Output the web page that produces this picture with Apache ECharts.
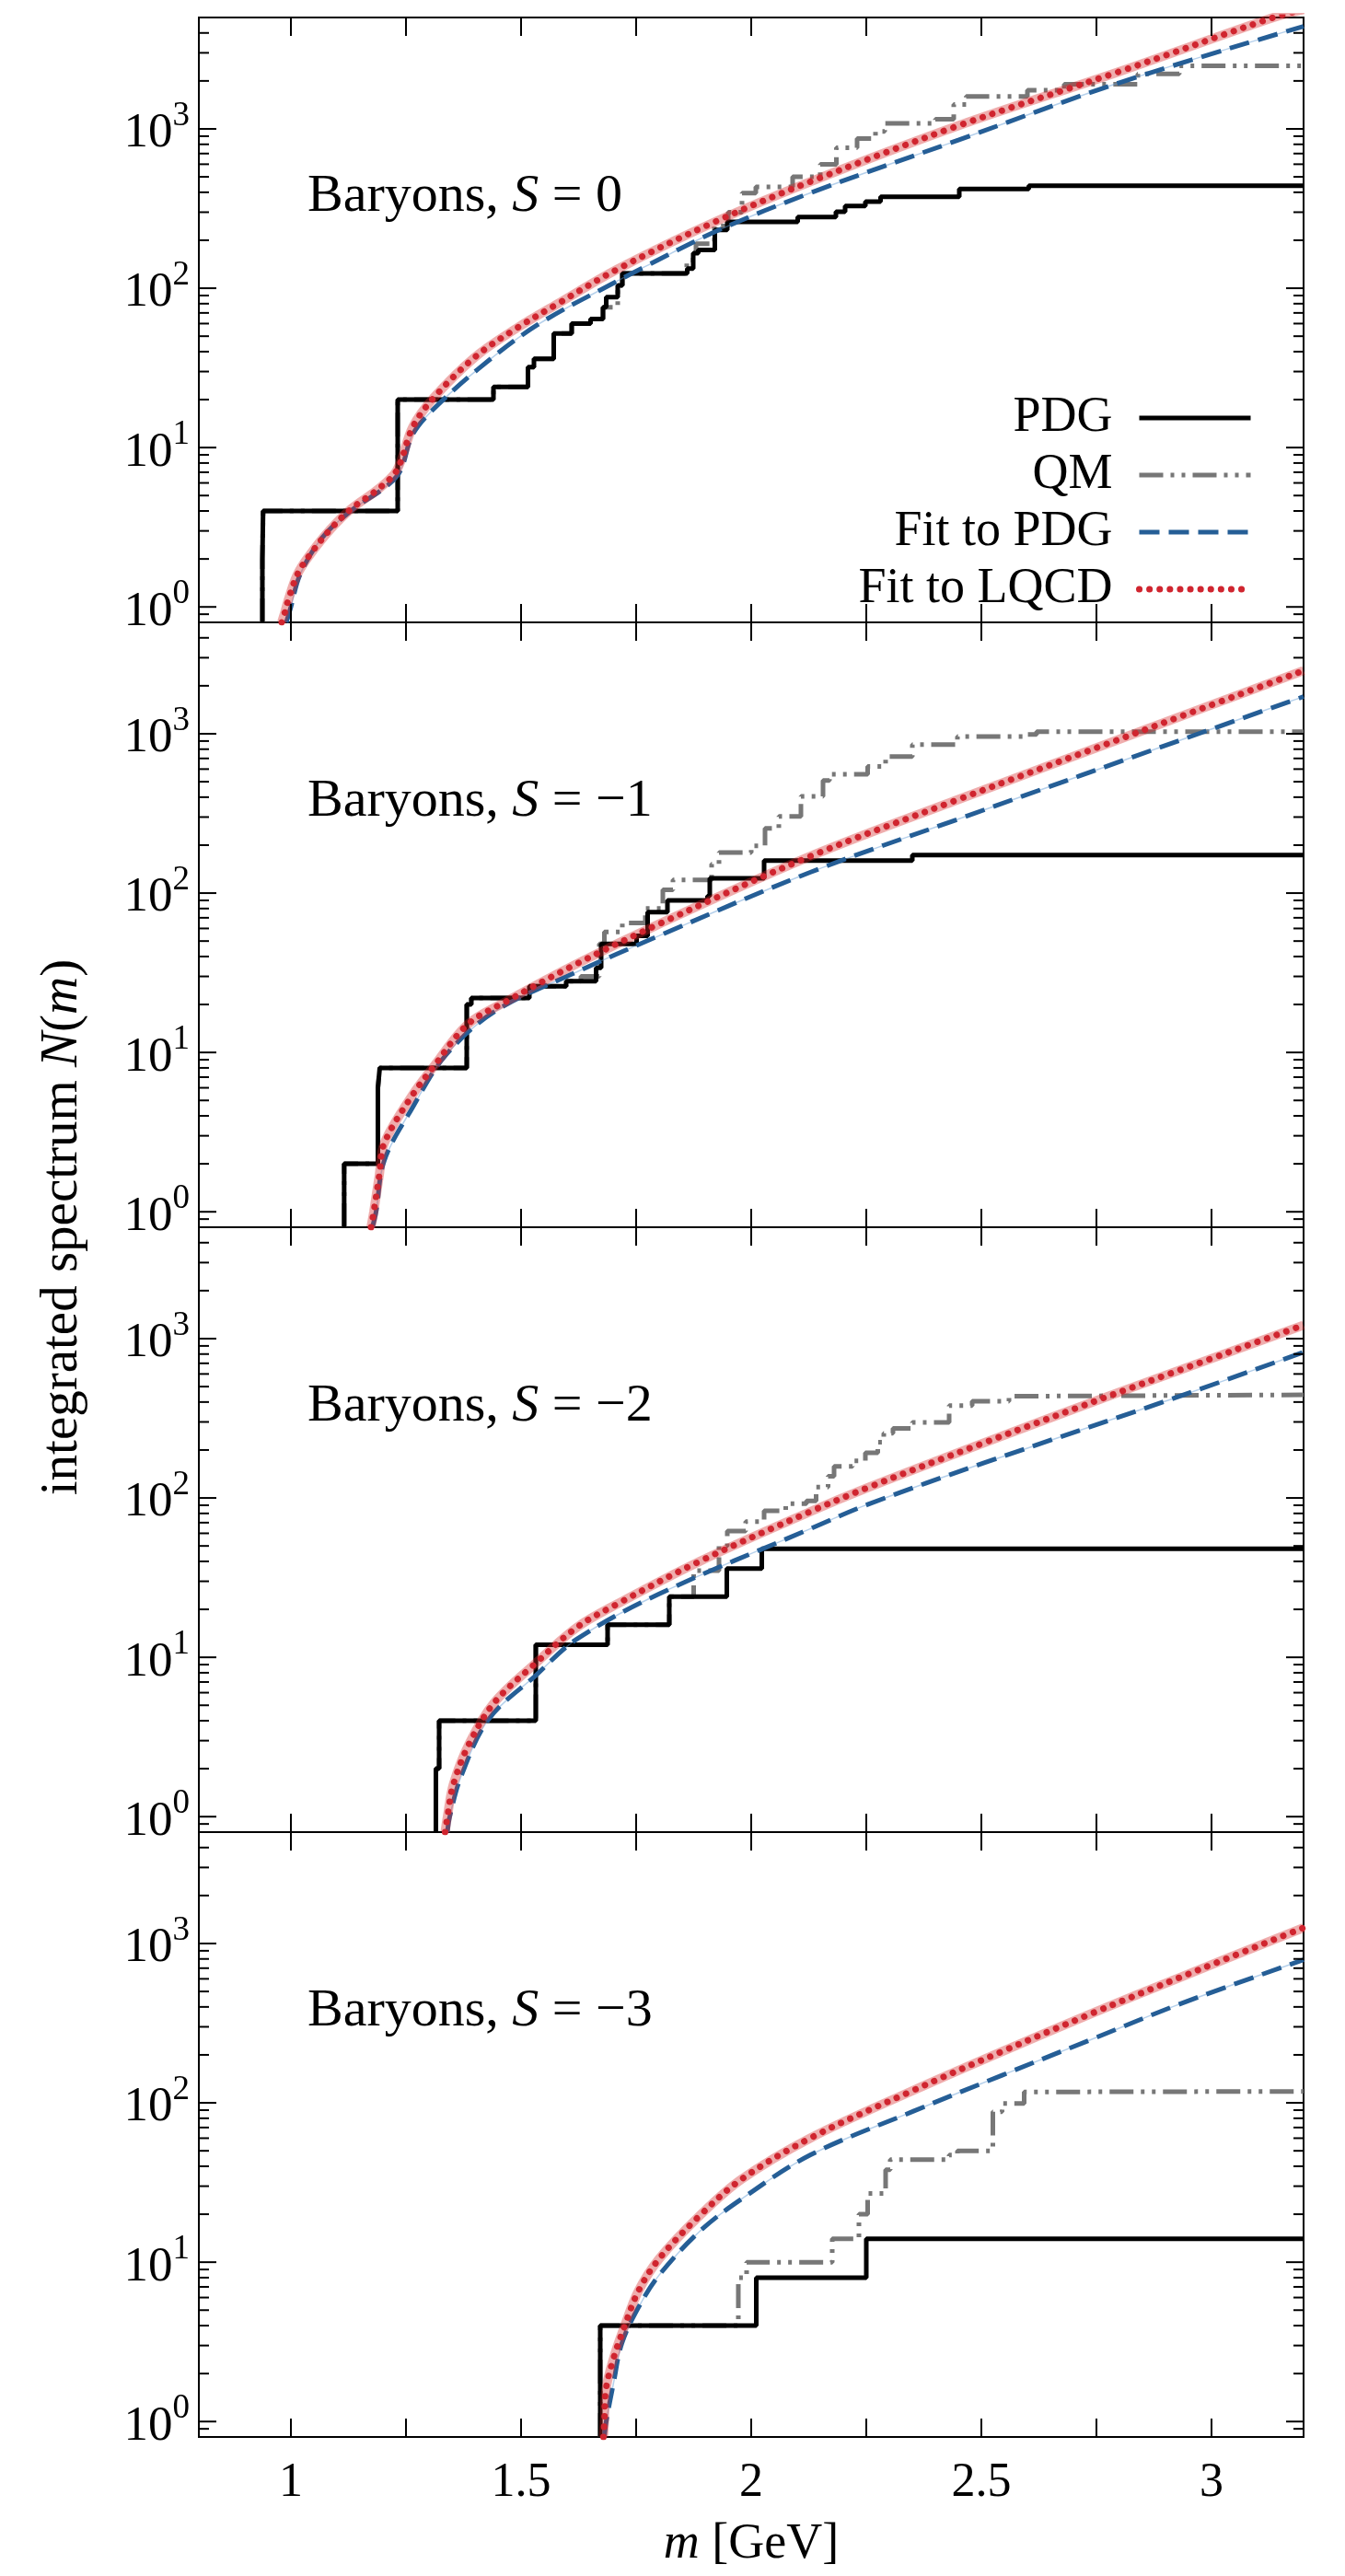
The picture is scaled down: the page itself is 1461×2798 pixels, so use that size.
<!DOCTYPE html>
<html>
<head>
<meta charset="utf-8">
<script src="https://cdn.jsdelivr.net/npm/echarts@6/dist/echarts.min.js"></script>
<style>
html, body { margin: 0; padding: 0; background: #fff; }
#chart { width: 1461px; height: 2798px; }
</style>
</head>
<body>
<div id="chart"></div>
<script>
// axis ticks
const xTicks = [1, 1.25, 1.5, 1.75, 2, 2.25, 2.5, 2.75, 3];
const xTickLabels = [1, 1.5, 2, 2.5, 3];
const yMajorTicks = [1, 10, 100, 1000];
const yMinorTicks = [0.9, 2, 3, 4, 5, 6, 7, 8, 9, 20, 30, 40, 50, 60, 70, 80, 90,
    200, 300, 400, 500, 600, 700, 800, 900, 2000, 3000, 4000];
const strangeness = ['0', '\u22121', '\u22122', '\u22123'];

// S = 0   [m (GeV), N(m)]
const pdgS0 = [[0.938, 0.8], [0.938, 2], [0.9396, 4], [1.232, 20], [1.44, 24], [1.515, 32], [1.528, 36],
    [1.571, 52], [1.61, 60], [1.651, 64], [1.678, 76], [1.685, 88], [1.71, 104], [1.72, 124], [1.861, 133],
    [1.874, 166], [1.885, 174], [1.921, 232], [1.948, 261], [2.101, 280], [2.184, 302], [2.204, 328],
    [2.248, 350], [2.281, 375], [2.452, 419], [2.603, 440], [3.2, 440]];
const qmS0 = [[0.938, 0.8], [0.938, 2], [0.9396, 4], [1.232, 20], [1.44, 24], [1.515, 32], [1.528, 36],
    [1.571, 52], [1.61, 60], [1.651, 64], [1.678, 76], [1.71, 104], [1.72, 124], [1.86, 150], [1.88, 190],
    [1.92, 246], [1.95, 300], [1.98, 395], [2.01, 433], [2.09, 500], [2.15, 600], [2.185, 760], [2.23, 870],
    [2.27, 964], [2.29, 1084], [2.40, 1150], [2.44, 1420], [2.467, 1597], [2.60, 1747], [2.68, 1905],
    [2.84, 2212], [2.93, 2490], [3.2, 2490]];
const fitPdgS0 = [[0.99, 0.8], [1.0, 1.0], [1.02, 1.6], [1.067, 2.7], [1.13, 4], [1.23, 6.6], [1.264, 12],
    [1.306, 17], [1.406, 31], [1.536, 59], [1.717, 114], [1.768, 136], [1.93, 232], [2.13, 398], [2.45, 851],
    [2.8, 1950], [3.2, 4400]];
const fitLqcdS0 = [[0.98, 0.8], [0.987, 0.93], [0.994, 1.1], [1.014, 1.6], [1.04, 2.1], [1.085, 3.05],
    [1.13, 4.1], [1.19, 5.5], [1.23, 7.2], [1.265, 13.5], [1.31, 20.5], [1.40, 37], [1.49, 56], [1.58, 80],
    [1.71, 132], [1.92, 260], [2.13, 468], [2.45, 1047], [2.8, 2290], [3.13, 4950], [3.2, 5600]];

// S = -1
const pdgS1 = [[1.1157, 0.8], [1.1157, 2], [1.189, 6], [1.193, 8], [1.382, 20], [1.392, 22], [1.518, 26],
    [1.598, 28], [1.663, 34], [1.674, 48], [1.751, 54], [1.775, 76], [1.818, 90], [1.905, 96], [1.91, 124],
    [2.028, 160], [2.35, 173], [3.2, 173]];
const qmS1 = [[1.1157, 0.8], [1.1157, 2], [1.189, 6], [1.193, 8], [1.382, 20], [1.392, 22], [1.518, 26],
    [1.598, 28], [1.63, 30], [1.67, 48], [1.681, 57], [1.72, 65], [1.77, 80], [1.808, 105], [1.83, 121],
    [1.914, 152], [1.93, 180], [2.0, 198], [2.03, 255], [2.06, 303], [2.108, 405], [2.156, 509], [2.17, 557],
    [2.253, 624], [2.292, 720], [2.35, 855], [2.448, 962], [2.593, 989], [2.62, 1030], [3.2, 1030]];
const fitPdgS1 = [[1.177, 0.8], [1.185, 1.0], [1.203, 2.1], [1.264, 4.5], [1.335, 9.5], [1.442, 18],
    [1.621, 32], [1.80, 54], [2.128, 135], [2.448, 290], [2.98, 1020], [3.2, 1710]];
const fitLqcdS1 = [[1.174, 0.8], [1.18, 1.0], [1.192, 1.7], [1.203, 2.7], [1.264, 5.4], [1.308, 8],
    [1.384, 15], [1.469, 21], [1.621, 36], [1.80, 64], [2.128, 170], [2.448, 385], [2.836, 1010], [3.2, 2490]];

// S = -2
const pdgS2 = [[1.315, 0.8], [1.315, 2], [1.322, 4], [1.532, 12], [1.688, 16], [1.822, 24], [1.947, 36],
    [2.023, 48], [3.2, 48]];
const qmS2 = [[1.315, 0.8], [1.315, 2], [1.322, 4], [1.532, 12], [1.688, 16], [1.822, 24], [1.875, 35],
    [1.93, 50], [1.948, 62], [1.988, 71], [2.028, 83], [2.075, 92], [2.12, 96], [2.141, 117], [2.167, 137],
    [2.18, 158], [2.22, 171], [2.248, 192], [2.275, 224], [2.288, 255], [2.308, 273], [2.35, 298], [2.43, 380],
    [2.48, 405], [2.56, 435], [2.59, 444], [3.2, 444]];
const fitPdgS2 = [[1.34, 0.8], [1.345, 1.0], [1.37, 1.8], [1.43, 4.1], [1.532, 7.7], [1.621, 13], [1.80, 25],
    [2.128, 64], [2.253, 91], [2.506, 166], [2.923, 427], [3.2, 822]];
const fitLqcdS2 = [[1.335, 0.8], [1.34, 1.0], [1.353, 1.6], [1.388, 2.9], [1.442, 5.2], [1.532, 9.2],
    [1.621, 15.4], [1.71, 21.7], [1.888, 40], [2.128, 82], [2.253, 116], [2.506, 222], [2.797, 458], [3.2, 1215]];

// S = -3
const pdgS3 = [[1.672, 0.8], [1.672, 4], [2.011, 8], [2.25, 14], [3.2, 14]];
const qmS3 = [[1.672, 0.8], [1.672, 4], [1.972, 8], [1.99, 10], [2.176, 14], [2.234, 20], [2.253, 27],
    [2.292, 38], [2.302, 44], [2.43, 47], [2.448, 50], [2.525, 88], [2.545, 99], [2.593, 117], [2.613, 118],
    [3.2, 118]];
const fitPdgS3 = [[1.681, 0.8], [1.685, 1.0], [1.701, 1.75], [1.719, 3.1], [1.755, 5.2], [1.80, 8.3],
    [1.889, 15.7], [1.978, 24.8], [2.128, 47], [2.35, 88], [2.545, 149], [2.739, 250], [2.933, 419], [3.2, 790]];
const fitLqcdS3 = [[1.679, 0.8], [1.681, 1.0], [1.684, 1.56], [1.701, 2.5], [1.724, 3.9], [1.755, 6.6],
    [1.80, 10.5], [1.889, 19.7], [1.978, 33], [2.128, 60], [2.35, 119], [2.545, 210], [2.739, 363], [2.933, 615],
    [3.2, 1256]];

const panels = [
    { pdg: pdgS0, qm: qmS0, fitPdg: fitPdgS0, fitLqcd: fitLqcdS0 },
    { pdg: pdgS1, qm: qmS1, fitPdg: fitPdgS1, fitLqcd: fitLqcdS1 },
    { pdg: pdgS2, qm: qmS2, fitPdg: fitPdgS2, fitLqcd: fitLqcdS2 },
    { pdg: pdgS3, qm: qmS3, fitPdg: fitPdgS3, fitLqcd: fitLqcdS3 }
];

const FONT = '"Liberation Serif", "DejaVu Serif", serif';
const gridTops = [19, 676, 1333, 1990];
const gridHeight = 657;

const styles = {
    pdg: { color: '#000000', width: 5, type: 'solid' },
    qm: { color: '#777777', width: 5, type: [26, 8, 4, 8, 4, 8] },
    fitPdg: { color: '#255e96', width: 5, type: [22, 10] },
    fitLqcd: { color: '#d0252f', width: 7, type: [0.1, 11], cap: 'round' }
};

// tick marks: [x, y, kind]  kind 0 = x tick, 1 = y major, 2 = y minor
const tickData = [
    ...xTicks.map(v => [v, 1, 0]),
    ...yMajorTicks.map(v => [1, v, 1]),
    ...yMinorTicks.map(v => [1, v, 2])
];

const renderTicks = (params, api) => {
    const cs = params.coordSys;
    const kind = api.value(2);
    const st = { stroke: '#000', lineWidth: 2 };
    if (kind === 0) {
        const x = api.coord([api.value(0), 1])[0];
        const b = cs.y + cs.height, t = cs.y;
        return { type: 'group', children: [
            { type: 'line', shape: { x1: x, y1: b, x2: x, y2: b - 20 }, style: st },
            { type: 'line', shape: { x1: x, y1: t, x2: x, y2: t + 20 }, style: st }
        ] };
    }
    const y = api.coord([1, api.value(1)])[1];
    const len = kind === 1 ? 19 : 11;
    const l = cs.x, r = cs.x + cs.width;
    return { type: 'group', children: [
        { type: 'line', shape: { x1: l, y1: y, x2: l + len, y2: y }, style: st },
        { type: 'line', shape: { x1: r, y1: y, x2: r - len, y2: y }, style: st }
    ] };
};

const yLabel = v => {
    const e = Math.log10(v);
    const r = Math.round(e);
    if (Math.abs(e - r) > 1e-6) return '';
    return '{b|10}{s|' + r + '}';
};
const xLabel = v => xTickLabels.some(t => Math.abs(t - v) < 1e-9) ? String(v) : '';

const grid = [], xAxis = [], yAxis = [], series = [];
panels.forEach((p, i) => {
    grid.push({
        left: 216, width: 1200, top: gridTops[i], height: gridHeight,
        show: true, borderColor: '#000', borderWidth: 2, backgroundColor: 'transparent'
    });
    xAxis.push({
        gridIndex: i, type: 'value', min: 0.8, max: 3.2,
        axisLine: { show: false }, axisTick: { show: false }, splitLine: { show: false },
        axisLabel: {
            show: i === 3, margin: 24, fontSize: 52, fontFamily: FONT, color: '#000',
            formatter: xLabel, showMinLabel: false, showMaxLabel: false
        },
        name: i === 3 ? '{i|m} [GeV]' : '',
        nameLocation: 'middle', nameGap: 90,
        nameTextStyle: {
            fontSize: 54, fontFamily: FONT, color: '#000',
            rich: { i: { fontStyle: 'italic', fontSize: 54, fontFamily: FONT, color: '#000' } }
        }
    });
    yAxis.push({
        gridIndex: i, type: 'log', logBase: 10, min: 0.8, max: 5000,
        axisLine: { show: false }, axisTick: { show: false }, splitLine: { show: false },
        axisLabel: {
            margin: 10, formatter: yLabel,
            rich: {
                b: { fontSize: 53, fontFamily: FONT, color: '#000', lineHeight: 64, verticalAlign: 'bottom' },
                s: { fontSize: 37, fontFamily: FONT, color: '#000', lineHeight: 37, verticalAlign: 'top' }
            }
        }
    });
    const base = { type: 'line', xAxisIndex: i, yAxisIndex: i, symbol: 'none', showSymbol: false,
        silent: true, animation: false };
    series.push(
        { ...base, name: 'QM', data: p.qm, step: 'end', lineStyle: styles.qm },
        { ...base, name: 'PDG', data: p.pdg, step: 'end', lineStyle: styles.pdg },
        { ...base, name: 'pdg band', data: p.fitPdg, smooth: 0.35,
          lineStyle: { color: 'rgba(90,150,210,0.45)', width: 1.5 } },
        { ...base, name: 'Fit to PDG', data: p.fitPdg, smooth: 0.35, lineStyle: styles.fitPdg },
        { ...base, name: 'lqcd band', data: p.fitLqcd, smooth: 0.35,
          lineStyle: { color: 'rgba(214,39,40,0.38)', width: 10 } },
        { ...base, name: 'Fit to LQCD', data: p.fitLqcd, smooth: 0.35, lineStyle: styles.fitLqcd },
        { type: 'custom', xAxisIndex: i, yAxisIndex: i, silent: true, z: 10, clip: false, animation: false,
          renderItem: renderTicks, data: tickData, encode: { x: 0, y: 1 } }
    );
});

const graphic = [
    ...strangeness.map((s, i) => ({
        type: 'text', left: 334, top: gridTops[i] + 166, silent: true,
        style: {
            text: 'Baryons, {i|S} = ' + s, fontSize: 58, fontFamily: FONT, fill: '#000',
            rich: { i: { fontStyle: 'italic', fontSize: 58, fontFamily: FONT, fill: '#000' } }
        }
    })),
    {
        type: 'text', x: 68, y: 1333, rotation: Math.PI / 2, silent: true,
        style: {
            text: 'integrated spectrum {i|N}({i|m})', fontSize: 57, fontFamily: FONT, fill: '#000',
            align: 'center', verticalAlign: 'middle',
            rich: { i: { fontStyle: 'italic', fontSize: 57, fontFamily: FONT, fill: '#000' } }
        }
    }
];

const legendItem = (name, ls) => ({ name, lineStyle: ls, itemStyle: { opacity: 0 } });

const chart = echarts.init(document.getElementById('chart'));
chart.setOption({
    animation: false,
    backgroundColor: '#fff',
    grid, xAxis, yAxis, series, graphic,
    legend: {
        data: [
            legendItem('PDG', styles.pdg),
            legendItem('QM', styles.qm),
            legendItem('Fit to PDG', styles.fitPdg),
            legendItem('Fit to LQCD', styles.fitLqcd)
        ],
        orient: 'vertical', right: 94, top: 422, align: 'right',
        itemWidth: 121, itemHeight: 14, itemGap: 8, selectedMode: false,
        itemStyle: { opacity: 0 },
        textStyle: { fontSize: 54, fontFamily: FONT, color: '#000', padding: [0, 24, 0, 0] }
    }
});
</script>
</body>
</html>
